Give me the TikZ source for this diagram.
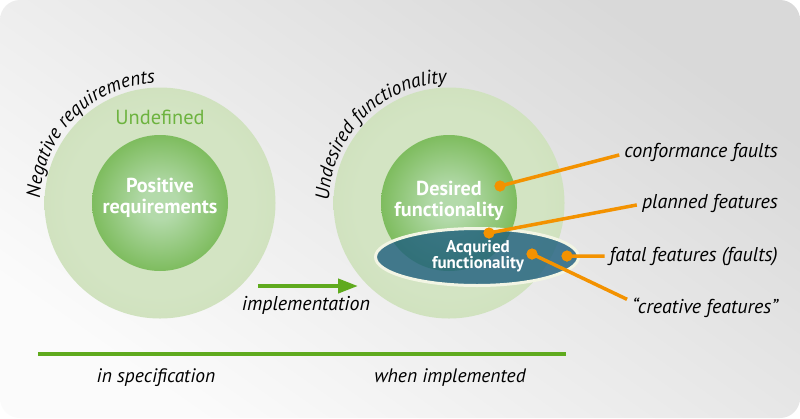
\documentclass[tikz,border=0pt]{standalone}
\usepackage{fontspec}
\setmainfont{PT Sans}
\usetikzlibrary{shapes.geometric,arrows.meta,decorations.text}
\definecolor{bgtop}{HTML}{D9D9D9}
\definecolor{bgbot}{HTML}{FBFBFB}
\definecolor{ringc}{HTML}{D3E4C3}
\definecolor{ringe}{HTML}{C3D8AB}
\definecolor{ballc}{HTML}{B3DAAA}
\definecolor{balle}{HTML}{5AA82B}
\definecolor{greenC}{HTML}{5FAA1E}
\definecolor{undefC}{HTML}{6DB33F}
\definecolor{tealC}{HTML}{21617F}
\definecolor{creamC}{HTML}{F2F5E4}
\definecolor{orangeC}{HTML}{F39200}
\pgfdeclareradialshading{outerring}{\pgfpoint{0bp}{0bp}}{color(0bp)=(ringc); color(20bp)=(ringc); color(50bp)=(ringe)}
\pgfdeclareradialshading{innerball}{\pgfpoint{0bp}{0bp}}{color(0bp)=(ballc); color(6bp)=(ballc); color(38bp)=(balle); color(50bp)=(balle)}
\begin{document}
\begin{tikzpicture}[x=1pt,y=1pt,
  lab/.style={font=\fontsize{20}{22}\selectfont\itshape, inner xsep=5pt, inner ysep=2pt},
  bottomlab/.style={font=\fontsize{19.5}{22}\selectfont\itshape},
  bigwhite/.style={font=\fontsize{20.2}{20.5}\selectfont\bfseries, text=white, align=center},
  smallwhite/.style={font=\fontsize{17}{16}\selectfont\bfseries, text=white, align=center},
  ring/.style={circle, inner sep=0pt, minimum size=231pt, shade, shading=outerring},
  ball/.style={circle, inner sep=0pt, minimum size=136pt, shade, shading=innerball},
  leader/.style={draw=orangeC, line width=3.5pt},
  dot/.style={circle, fill=orangeC, minimum size=11pt, inner sep=0pt},
  greenline/.style={draw=greenC, line width=4pt},
  arctext/.style={decorate, decoration={text along path, text align=center,
     text format delimiters={|}{|}, text={#1}}}]
\fill[white] (0,0) rectangle (800,-418);
\useasboundingbox (0,0) rectangle (800,-418);
\shade[rounded corners=20pt, top color=bgtop, bottom color=bgbot, shading angle=-35] (0,0) rectangle (800,-418);

% left
\node[ring] (outL) at (160,-203) {};
\node[ball] (inL) at (160,-203) {};
\node[bigwhite] (posT) at (160,-198) {Positive\\requirements};
\node[font=\fontsize{20.4}{22}\selectfont, text=undefC] (undef) at (160,-117) {Undefined};
\path[arctext={|\fontsize{19.5}{22}\selectfont\itshape|Negative requirements}]
  ([shift={(185:120)}]outL.center) arc[start angle=185, end angle=85, radius=120];

% right
\node[ring] (outR) at (449,-203) {};
\node[ball] (inR) at (449,-203) {};
\node[bigwhite] (desT) at (449,-201) {Desired\\functionality};
\path[arctext={|\fontsize{19.5}{22}\selectfont\itshape|Undesired functionality}]
  ([shift={(185:120)}]outR.center) arc[start angle=185, end angle=85, radius=120];
\node[ellipse, minimum width=203pt, minimum height=57pt, inner sep=0pt, fill=tealC, fill opacity=0.82, draw=creamC, draw opacity=1, line width=3pt] (acq) at (477,-257) {};
\node[smallwhite] (acqT) at (478,-256) {Acquried\\functionality};

% arrow
\coordinate (a1) at (258,-286);
\coordinate (a2) at (358,-286);
\draw[greenline, -{Triangle[length=20pt,width=14pt]}] (a1) -- (a2);
\node[lab] (impl) at (306,-305) {implementation};

% leaders
\node[dot] (d1) at (500,-186) {};
\node[dot] (d2) at (489,-233) {};
\node[dot] (d3) at (567,-256) {};
\node[dot] (d4) at (532,-254) {};
\node[lab, anchor=base east] (cf) at (783,-157) {conformance faults};
\node[lab, anchor=base east] (pf) at (783,-208) {planned features};
\node[lab, anchor=base east] (ff) at (783,-261) {fatal features (faults)};
\node[lab, anchor=base east] (crf) at (783,-313) {“creative features”};
\draw[leader] (d1.center) -- ([yshift=-3pt]cf.west);
\draw[leader] (d2.center) -- ([yshift=-2pt]pf.west);
\draw[leader] (d3.center) -- (ff.west);
\draw[leader] (d4.center) -- ([yshift=8pt]crf.west);
\node[dot] at (d1) {};
\node[dot] at (d2) {};
\node[dot] at (d3) {};
\node[dot] at (d4) {};

% timeline
\coordinate (t1) at (38,-354);
\coordinate (t2) at (566,-354);
\draw[greenline] (t1) -- (t2);
\node[bottomlab] (spec) at (156,-378) {in specification};
\node[bottomlab] (impl2) at (450,-378) {when implemented};
\end{tikzpicture}
\end{document}
